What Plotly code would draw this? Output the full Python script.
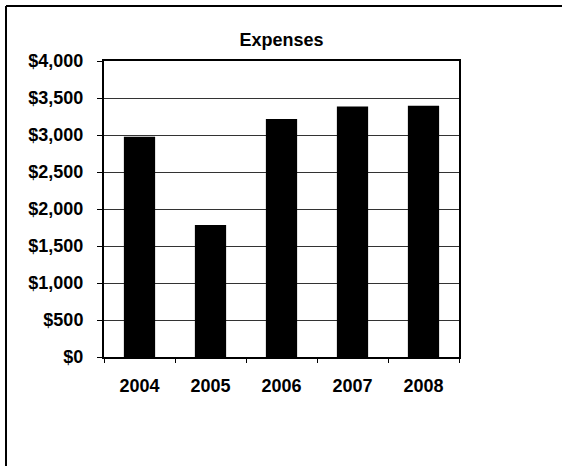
import plotly.graph_objects as go

# Expense totals per year
years = ["2004", "2005", "2006", "2007", "2008"]
expenses = [2975, 1785, 3215, 3385, 3395]

y_ticks = [0, 500, 1000, 1500, 2000, 2500, 3000, 3500, 4000]
y_tick_labels = [f"${v:,}" for v in y_ticks]

W, H = 563, 467
L, R, T, B = 104, 104, 61, 110
pw, ph = W - L - R, H - T - B


def px_x(x):
    return (x - L) / pw


def px_y(y):
    return (H - B - y) / ph


font_family = "Liberation Sans, Arial, sans-serif"
tick_font = dict(family=font_family, size=18, color="black", weight="bold")

fig = go.Figure(
    go.Bar(
        x=years,
        y=expenses,
        marker=dict(color="black", line=dict(width=0)),
        width=0.44,
    )
)

fig.update_layout(
    width=W,
    height=H,
    margin=dict(l=L, r=R, t=T, b=B, pad=0),
    paper_bgcolor="white",
    plot_bgcolor="white",
    showlegend=False,
    font=dict(family=font_family, color="black"),
    title=dict(
        text="Expenses",
        font=dict(family=font_family, size=18, color="black", weight="bold"),
        x=0.5,
        xref="paper",
        xanchor="center",
        y=1 - 40 / H,
        yref="container",
        yanchor="middle",
    ),
    xaxis=dict(
        type="category",
        showgrid=False,
        showline=True,
        linecolor="black",
        linewidth=2,
        mirror=True,
        ticks="outside",
        tickson="boundaries",
        ticklen=4,
        tickcolor="black",
        tickwidth=1,
        ticklabelstandoff=11,
        tickfont=tick_font,
    ),
    yaxis=dict(
        range=[0, 4000],
        tickvals=y_ticks,
        ticktext=y_tick_labels,
        showgrid=True,
        gridcolor="#333333",
        gridwidth=1,
        showline=True,
        linecolor="black",
        linewidth=2,
        mirror=True,
        ticks="outside",
        ticklen=5,
        tickcolor="black",
        tickwidth=1,
        ticklabelstandoff=10,
        zeroline=False,
        tickfont=tick_font,
    ),
    shapes=[
        # open outer frame: top and left edges only
        dict(type="line", xref="paper", yref="paper",
             x0=px_x(6), x1=px_x(W - 1), y0=px_y(6), y1=px_y(6),
             line=dict(color="black", width=2)),
        dict(type="line", xref="paper", yref="paper",
             x0=px_x(6), x1=px_x(6), y0=px_y(6), y1=px_y(H - 1),
             line=dict(color="black", width=2)),
    ],
)

fig.write_html("out.html", config={"displayModeBar": False})
